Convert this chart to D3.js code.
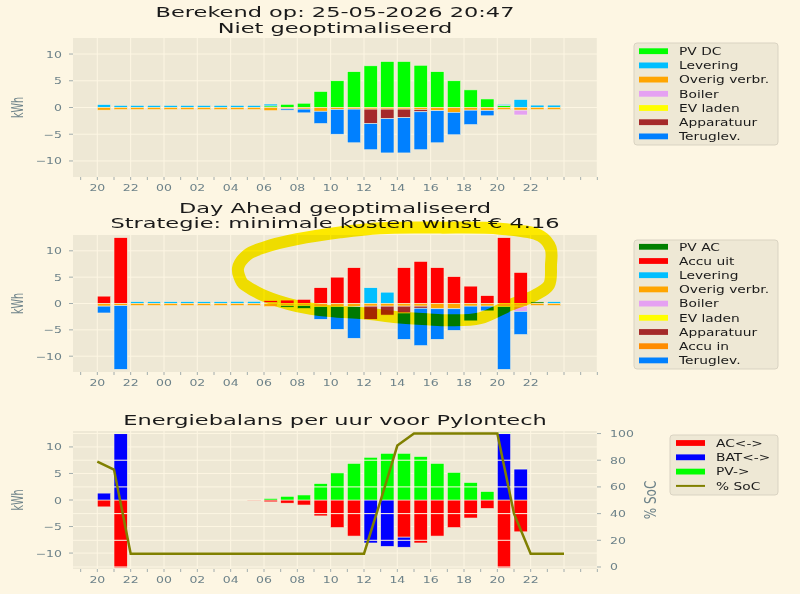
<!DOCTYPE html>
<html>
<head>
<meta charset="utf-8">
<script src="https://cdn.jsdelivr.net/npm/d3@7"></script>
<style>
  body { margin: 0; background: #fdf6e3; }
  svg text { font-family: "DejaVu Sans", sans-serif; }
</style>
</head>
<body>
<svg id="chart" width="800" height="594"></svg>
<script>
// ---- data ----
// one bar per hour, 20:00 today .. 23:00 tomorrow
var hourTicks = ["20","22","00","02","04","06","08","10","12","14","16","18","20","22"];
var kwhTicks  = [-10, -5, 0, 5, 10];
var socTicks  = [0, 20, 40, 60, 80, 100];

// Niet geoptimaliseerd
var pvDc     = [0,0,0,0,0,0,0,0,0,0,0.3,0.6,0.8,3.0,5.0,6.7,7.8,8.6,8.6,7.9,6.7,5.0,3.3,1.6,0.35,0,0,0];
var levering = [0.55,0.4,0.4,0.4,0.4,0.4,0.4,0.4,0.4,0.4,0.35,0,0,0,0,0,0,0,0,0,0,0,0,0,0.25,1.5,0.45,0.45];
var overig   = [-0.5,-0.4,-0.4,-0.4,-0.4,-0.4,-0.4,-0.4,-0.4,-0.4,-0.6,-0.25,-0.3,-0.7,-0.35,-0.3,-0.3,-0.3,-0.3,-0.35,-0.6,-0.9,-0.5,-0.55,-0.4,-0.5,-0.4,-0.4];
var boiler   = [0,0,0,0,0,0,0,0,0,0,0,0,0,0,0,0,0,0,0,0,0,0,0,0,0,-0.9,0,0];
var evLaden  = [0,0,0,0,0,0,0,0,0,0,0,0,0,0,0,0,0,0,0,0,0,0,0,0,0,0,0,0];
var apparatuur = [0,0,0,0,0,0,0,0,0,0,0,0,0,0,0,0,-2.7,-1.8,-1.6,-0.45,0,0,0,0,0,0,0,0];
var teruglev = [0,0,0,0,0,0,0,0,0,0,0,-0.25,-0.7,-2.3,-4.65,-6.3,-4.9,-6.4,-6.6,-7.1,-6.0,-4.2,-2.7,-1.0,0,0,0,0];

// Day Ahead geoptimaliseerd
var daPvAc     = [0,0,0,0,0,0,0,0,0,0,0.2,0,0,0,0,0,0,0,0,0,0,0,0,0,0,0,0.3,0];
var daAccuUit  = [1.4,12.5,0,0,0,0,0,0,0,0,0.35,0.65,0.8,3.0,5.0,6.8,0,0,6.8,8.0,6.8,5.1,3.3,1.5,12.5,5.9,0,0];
var daLevering = [0,0,0.35,0.35,0.35,0.35,0.35,0.35,0.4,0.4,0,0,0,0,0,0,3.0,2.15,0,0,0,0,0,0,0,0,0,0.35];
var daOverig   = [-0.5,-0.4,-0.4,-0.4,-0.4,-0.4,-0.4,-0.4,-0.4,-0.4,-0.6,-0.4,-0.4,-0.6,-0.6,-0.6,-0.5,-0.5,-0.5,-0.5,-1.0,-1.0,-0.5,-0.5,-0.6,-0.5,-0.4,-0.4];
var daBoiler   = [0,0,0,0,0,0,0,0,0,0,0,0,0,0,0,0,0,0,0,0,0,0,0,0,0,-1.0,0,0];
var daEvLaden  = [0,0,0,0,0,0,0,0,0,0,0,0,0,0,0,0,0,0,0,0,0,0,0,0,0,0,0,0];
var daApparatuur = [0,0,0,0,0,0,0,0,0,0,0,0,0,0,0,0,-2.5,-1.7,-1.3,-0.4,0,0,0,0,0,0,0,0];
var daAccuIn   = [0,0,0,0,0,0,0,0,0,0,0,0,0,0,0,0,0,0,0,0,0,0,0,0,0,0,0,0];
var daTeruglev = [-1.3,-12.1,0,0,0,0,0,0,0,0,0,-0.3,-0.55,-2.4,-4.3,-6.0,0,0,-5.0,-7.1,-5.8,-4.1,-2.8,-0.9,-11.9,-4.4,0,0];

// Energiebalans Pylontech
var balAc  = [-1.3,-12.8,0,0,0,0,0,0,0,-0.05,-0.35,-0.6,-0.95,-3.0,-5.2,-6.8,0,0,-7.0,-8.1,-6.8,-5.2,-3.4,-1.6,-12.8,-6.0,0,0];
var balBat = [1.3,12.6,0,0,0,0,0,0,0,0,0,0,0,0,0,0,-8.1,-8.75,-1.9,0,0,0,0,0,12.6,5.85,0,0];
var balPv  = [0,0.1,0,0,0,0,0,0,0,0,0.3,0.7,0.95,3.1,5.1,6.9,8.05,8.8,8.8,8.2,6.9,5.2,3.3,1.6,0.15,0.1,0,0];
var soc    = [79,73,10,10,10,10,10,10,10,10,10,10,10,10,10,10,10,50,91,100,100,100,100,100,100,40,10,10,10];

// hand drawn marker loop on the middle chart (hour index, kWh)
var markerLoop = [[8.68,4.0],[8.44,6.7],[8.98,9.2],[10.06,10.7],[11.98,12.2],[14.56,13.5],[16.96,14.3],
  [20.56,14.4],[24.16,14.2],[26.6,12.8],[27.2,10.5],[27.22,7.3],[27.1,3.5],[26.26,1.57],[24.76,-0.3],
  [22.96,-2.8],[21.16,-3.2],[19.78,-3.0],[17.98,-2.6],[15.94,-1.85],[13.96,-1.45],[11.98,-0.5],
  [9.94,1.57],[8.86,3.5]];

// ---- drawing ----
var SY = 0.76, SYT = 0.66;      // the picture is squashed vertically
var FG = "#1a1a1a", TICKC = "#6d8289";
var svg = d3.select("#chart");
svg.append("rect").attr("width", 800).attr("height", 594).attr("fill", "#fdf6e3");

var x = d3.scaleLinear().domain([-1.46, 29.98]).range([73, 597]);
var barW = x(0.8) - x(0);

function txt(g, px, py, s, size, anchor, color, sy, rot) {
  return g.append("text")
    .attr("transform", "translate(" + px + "," + py + ") scale(1," + sy + ")" + (rot ? " rotate(-90)" : ""))
    .attr("text-anchor", anchor)
    .style("font-size", size + "px")
    .attr("fill", color)
    .text(s);
}

function panel(p) {
  var y = d3.scaleLinear().domain([-13, 13]).range([p.bottom, p.top]);
  var g = svg.append("g");

  g.append("rect").attr("x", 73).attr("y", p.top).attr("width", 524)
    .attr("height", p.bottom - p.top).attr("fill", "#eee8d5");

  // grid
  d3.range(0, 31, 2).forEach(function(i) {
    g.append("line").attr("x1", x(i)).attr("x2", x(i)).attr("y1", p.top).attr("y2", p.bottom)
      .attr("stroke", "#fdf6e3").attr("stroke-width", 1);
  });
  kwhTicks.forEach(function(v) {
    g.append("line").attr("x1", 73).attr("x2", 597).attr("y1", y(v)).attr("y2", y(v))
      .attr("stroke", "#fdf6e3").attr("stroke-width", 1);
  });

  // stacked bars
  var pos = d3.range(28).map(function() { return 0; });
  var neg = d3.range(28).map(function() { return 0; });
  p.series.forEach(function(s) {
    s.values.forEach(function(v, i) {
      if (!v) return;
      var b = v > 0 ? pos[i] : neg[i];
      var t = b + v;
      if (v > 0) pos[i] = t; else neg[i] = t;
      g.append("rect")
        .attr("x", x(i)).attr("width", barW)
        .attr("y", y(Math.max(b, t))).attr("height", Math.abs(y(b) - y(t)))
        .attr("fill", s.color)
        .attr("stroke", "#f6f0dd").attr("stroke-width", 0.6);
    });
  });

  // x ticks
  d3.range(-1, 31).forEach(function(i) {
    g.append("line").attr("x1", x(i)).attr("x2", x(i)).attr("y1", p.bottom).attr("y2", p.bottom + 3)
      .attr("stroke", "#8a9a9f").attr("stroke-width", 0.8);
  });
  hourTicks.forEach(function(h, k) {
    txt(g, x(k * 2), p.bottom + 13.5, h, 12.5, "middle", TICKC, SY);
  });
  // y ticks
  kwhTicks.forEach(function(v) {
    g.append("line").attr("x1", 69).attr("x2", 73).attr("y1", y(v)).attr("y2", y(v))
      .attr("stroke", "#8a9a9f").attr("stroke-width", 0.8);
    txt(g, 62, y(v) + 3.5, v < 0 ? "\u2212" + Math.abs(v) : String(v), 12.5, "end", TICKC, SY);
  });
  txt(g, 23, (p.top + p.bottom) / 2, "kWh", 16, "middle", TICKC, 0.6, true);

  // titles
  p.titles.forEach(function(t, k) {
    txt(g, 335, p.titleY[k], t, 22.5, "middle", FG, SYT);
  });

  return { g: g, y: y };
}

function legend(lg) {
  var g = svg.append("g");
  g.append("rect").attr("x", lg.x).attr("y", lg.y).attr("width", lg.w).attr("height", lg.h)
    .attr("rx", 3).attr("fill", "#eee8d5").attr("stroke", "#d9d3c2").attr("stroke-width", 1);
  lg.items.forEach(function(it, k) {
    var cy = lg.y0 + k * lg.step;
    if (it.line) {
      g.append("line").attr("x1", lg.sx).attr("x2", lg.sx + 29).attr("y1", cy).attr("y2", cy)
        .attr("stroke", it.color).attr("stroke-width", 2);
    } else {
      g.append("rect").attr("x", lg.sx).attr("y", cy - 2.9).attr("width", 29).attr("height", 5.8)
        .attr("fill", it.color);
    }
    txt(g, lg.tx, cy + 3.8, it.name, 13.8, "start", FG, SY);
  });
}

// top panel
var sTop = [
  { name: "PV DC", color: "#00ff00", values: pvDc },
  { name: "Levering", color: "#00bfff", values: levering },
  { name: "Overig verbr.", color: "#ffa500", values: overig },
  { name: "Boiler", color: "#e5a1f2", values: boiler },
  { name: "EV laden", color: "#ffff00", values: evLaden },
  { name: "Apparatuur", color: "#a52a2a", values: apparatuur },
  { name: "Teruglev.", color: "#0080ff", values: teruglev }
];
panel({ top: 38, bottom: 177, series: sTop,
  titles: ["Berekend op: 25-05-2026 20:47", "Niet geoptimaliseerd"], titleY: [17, 32.5] });
legend({ x: 634, y: 43, w: 144, h: 102, y0: 51.2, step: 14.2, sx: 639, tx: 679, items: sTop });

// middle panel
var sMid = [
  { name: "PV AC", color: "#008000", values: daPvAc },
  { name: "Accu uit", color: "#ff0000", values: daAccuUit },
  { name: "Levering", color: "#00bfff", values: daLevering },
  { name: "Overig verbr.", color: "#ffa500", values: daOverig },
  { name: "Boiler", color: "#e5a1f2", values: daBoiler },
  { name: "EV laden", color: "#ffff00", values: daEvLaden },
  { name: "Apparatuur", color: "#a52a2a", values: daApparatuur },
  { name: "Accu in", color: "#ff8c00", values: daAccuIn },
  { name: "Teruglev.", color: "#0080ff", values: daTeruglev }
];
var mid = panel({ top: 235, bottom: 372, series: sMid,
  titles: ["Day Ahead geoptimaliseerd", "Strategie: minimale kosten winst \u20ac 4.16"], titleY: [212.5, 228] });
legend({ x: 634, y: 240, w: 144, h: 129, y0: 246.8, step: 14.2, sx: 639, tx: 679, items: sMid });

// bottom panel
var sBot = [
  { name: "AC<->", color: "#ff0000", values: balAc },
  { name: "BAT<->", color: "#0000ff", values: balBat },
  { name: "PV->", color: "#00ff00", values: balPv }
];
var bot = panel({ top: 431, bottom: 569, series: sBot,
  titles: ["Energiebalans per uur voor Pylontech"], titleY: [425] });

var ySoc = d3.scaleLinear().domain([-1.5, 101.9]).range([569, 431]);
socTicks.forEach(function(v) {
  bot.g.append("line").attr("x1", 73).attr("x2", 597).attr("y1", ySoc(v)).attr("y2", ySoc(v))
    .attr("stroke", "#fdf6e3").attr("stroke-width", 1);
  bot.g.append("line").attr("x1", 597).attr("x2", 601).attr("y1", ySoc(v)).attr("y2", ySoc(v))
    .attr("stroke", "#8a9a9f").attr("stroke-width", 0.8);
  txt(bot.g, 610, ySoc(v) + 3.5, String(v), 12.5, "start", TICKC, SY);
});
txt(bot.g, 656, 500, "% SoC", 15, "middle", TICKC, 0.8, true);

bot.g.append("path")
  .datum(soc)
  .attr("fill", "none").attr("stroke", "#808000").attr("stroke-width", 2.5)
  .attr("d", d3.line().x(function(d, i) { return x(i); }).y(function(d) { return ySoc(d); }));

legend({ x: 670, y: 435, w: 108, h: 60, y0: 443, step: 14.3, sx: 676, tx: 716,
  items: [sBot[0], sBot[1], sBot[2], { name: "% SoC", color: "#808000", line: true }] });

// highlighter loop drawn over the middle chart
svg.append("path")
  .datum(markerLoop)
  .attr("fill", "none")
  .attr("stroke", "#fff200")
  .attr("stroke-width", 12)
  .attr("stroke-linejoin", "round")
  .style("mix-blend-mode", "multiply")
  .attr("d", d3.line().curve(d3.curveCatmullRomClosed)
    .x(function(d) { return x(d[0]); }).y(function(d) { return mid.y(d[1]); }));
</script>
</body>
</html>
